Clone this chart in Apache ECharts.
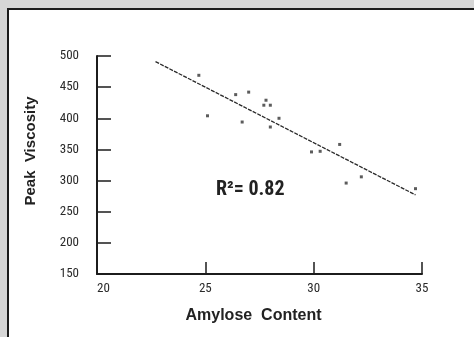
<!DOCTYPE html>
<html>
<head>
<meta charset="utf-8">
<script src="https://cdn.jsdelivr.net/npm/echarts@6/dist/echarts.min.js"></script>
<style>
  html, body { margin: 0; padding: 0; width: 474px; height: 337px; overflow: hidden; background: #d6d6d6; }
  .panel { position: absolute; left: 7px; top: 8px; right: 0; bottom: 0; background: #fff;
           border-top: 2px solid #1c1c1c; border-left: 2px solid #1c1c1c; }
  #chart { position: absolute; left: 0; top: 0; width: 474px; height: 337px; }
</style>
</head>
<body>
<div class="panel"></div>
<div id="chart"></div>
<script>
  // amylose content (%) vs peak viscosity
  var amylose = [24.7, 25.1, 26.4, 26.7, 27.0, 27.7, 27.8, 28.0, 28.0, 28.4, 29.9, 30.3, 31.2, 31.5, 32.2, 34.7];
  var viscosity = [469, 404, 438, 394, 442, 421, 429, 421, 386, 400, 346, 347, 358, 296, 306, 287];
  // fitted line end points
  var fitX = [22.7, 34.7];
  var fitY = [491, 277];
  var xTicks = [20, 25, 30, 35];
  var yTicks = [150, 200, 250, 300, 350, 400, 450, 500];
  var r2Label = 'R²= 0.82';

  var narrow = "'Liberation Sans Narrow', 'Roboto Condensed', 'DejaVu Sans Condensed', 'Liberation Sans', sans-serif";
  var plain = "'Liberation Sans', Arial, sans-serif";

  let myChart = echarts.init(document.getElementById('chart'));
  myChart.setOption({
    backgroundColor: 'transparent',
    animation: false,
    grid: { left: 97, right: 52, top: 56, bottom: 63 },
    title: {
      text: r2Label,
      left: 211, top: 175,
      textStyle: { fontFamily: narrow, fontSize: 20, fontWeight: 'bold', color: '#222' }
    },
    xAxis: {
      type: 'value',
      min: xTicks[0], max: xTicks[xTicks.length - 1], interval: 5,
      name: 'Amylose  Content',
      nameLocation: 'middle', nameGap: 34,
      nameTextStyle: { fontFamily: plain, fontSize: 16, fontWeight: 'bold', color: '#222', padding: [0, 12, 0, 0] },
      splitLine: { show: false },
      axisLine: { lineStyle: { color: '#1c1c1c', width: 2 } },
      axisTick: { inside: true, length: 12, lineStyle: { color: '#1c1c1c', width: 1.5 } },
      axisLabel: { fontFamily: narrow, fontSize: 13, color: '#2a2a2a', margin: 8, alignMinLabel: 'left' }
    },
    yAxis: {
      type: 'value',
      min: yTicks[0], max: yTicks[yTicks.length - 1], interval: 50,
      name: 'Peak  Viscosity',
      nameLocation: 'middle', nameGap: 59,
      nameTextStyle: { fontFamily: plain, fontSize: 15, fontWeight: 'bold', color: '#222', padding: [0, 0, 0, 28] },
      splitLine: { show: false },
      axisLine: { lineStyle: { color: '#1c1c1c', width: 2 } },
      axisTick: { inside: true, length: 14, lineStyle: { color: '#1c1c1c', width: 1.5 } },
      axisLabel: { fontFamily: narrow, fontSize: 13, color: '#2a2a2a', margin: 18 }
    },
    series: [
      {
        type: 'line',
        data: fitX.map(function (x, i) { return [x, fitY[i]]; }),
        symbol: 'none',
        lineStyle: { color: '#2a2a2a', width: 1.3, type: [4, 1.2] },
        z: 2
      },
      {
        type: 'scatter',
        data: amylose.map(function (x, i) { return [x, viscosity[i]]; }),
        symbol: 'rect',
        symbolSize: 3,
        itemStyle: { color: '#333' },
        z: 3
      }
    ]
  });
</script>
</body>
</html>
